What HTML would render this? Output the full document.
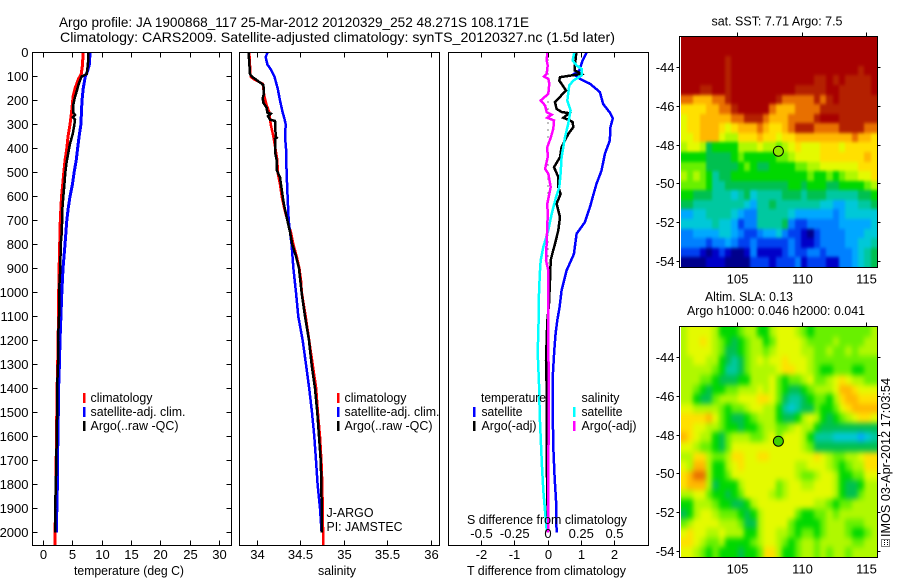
<!DOCTYPE html>
<html lang="en">
<head>
<meta charset="utf-8">
<title>Argo profile</title>
<style>
html,body{margin:0;padding:0;background:#fff;width:900px;height:580px;overflow:hidden}
svg{display:block;font-family:"Liberation Sans",sans-serif;fill:#000}
text{font-size:13px}
</style>
</head>
<body>
<svg id="chart" width="900" height="580" viewBox="0 0 900 580" xmlns="http://www.w3.org/2000/svg">
  <defs>
    <filter id="soft1" x="-5%" y="-5%" width="110%" height="110%" color-interpolation-filters="sRGB"><feGaussianBlur stdDeviation="1.3 1.7"/></filter>
    <filter id="soft2" x="-5%" y="-5%" width="110%" height="110%" color-interpolation-filters="sRGB"><feGaussianBlur stdDeviation="2.4 3"/></filter>
  </defs>
  <text x="59" y="27" textLength="470" lengthAdjust="spacingAndGlyphs" style="font-size:14px">Argo profile: JA 1900868_117 25-Mar-2012 20120329_252 48.271S 108.171E</text>
  <text x="60" y="42" textLength="555" lengthAdjust="spacingAndGlyphs" style="font-size:14px">Climatology: CARS2009. Satellite-adjusted climatology: synTS_20120327.nc (1.5d later)</text>

  <g id="maps"></g>
  <g id="lines"></g>
  <g id="axes"></g>

  <text x="74" y="575" textLength="110" lengthAdjust="spacingAndGlyphs">temperature (deg C)</text>
  <text x="318" y="575" textLength="38" lengthAdjust="spacingAndGlyphs">salinity</text>
  <text x="467" y="575" textLength="159" lengthAdjust="spacingAndGlyphs">T difference from climatology</text>
  <text x="467" y="524" textLength="160" lengthAdjust="spacingAndGlyphs">S difference from climatology</text>

  <g>
    <rect x="83" y="393" width="2.5" height="10" fill="#f00"/>
    <text x="90.5" y="402" textLength="62" lengthAdjust="spacingAndGlyphs">climatology</text>
    <rect x="83" y="407" width="2.5" height="10" fill="#00f"/>
    <text x="90.5" y="416" textLength="95" lengthAdjust="spacingAndGlyphs">satellite-adj. clim.</text>
    <rect x="83" y="421" width="2.5" height="10" fill="#000"/>
    <text x="90.5" y="430" textLength="88" lengthAdjust="spacingAndGlyphs">Argo(..raw -QC)</text>
  </g>
  <g>
    <rect x="337" y="393" width="2.5" height="10" fill="#f00"/>
    <text x="344.5" y="402" textLength="62" lengthAdjust="spacingAndGlyphs">climatology</text>
    <rect x="337" y="407" width="2.5" height="10" fill="#00f"/>
    <text x="344.5" y="416" textLength="95" lengthAdjust="spacingAndGlyphs">satellite-adj. clim.</text>
    <rect x="337" y="421" width="2.5" height="10" fill="#000"/>
    <text x="344.5" y="430" textLength="88" lengthAdjust="spacingAndGlyphs">Argo(..raw -QC)</text>
  </g>
  <text x="326.5" y="517" textLength="47" lengthAdjust="spacingAndGlyphs">J-ARGO</text>
  <text x="326.5" y="531" textLength="76" lengthAdjust="spacingAndGlyphs">PI: JAMSTEC</text>

  <g>
    <text x="481" y="402" textLength="65" lengthAdjust="spacingAndGlyphs">temperature</text>
    <rect x="473" y="407" width="2.5" height="10" fill="#00f"/>
    <text x="481.5" y="416" textLength="41" lengthAdjust="spacingAndGlyphs">satellite</text>
    <rect x="473" y="421" width="2.5" height="10" fill="#000"/>
    <text x="481.5" y="430" textLength="55" lengthAdjust="spacingAndGlyphs">Argo(-adj)</text>
    <text x="581.5" y="402" textLength="38" lengthAdjust="spacingAndGlyphs">salinity</text>
    <rect x="573" y="407" width="2.5" height="10" fill="#0ff"/>
    <text x="581.5" y="416" textLength="41" lengthAdjust="spacingAndGlyphs">satellite</text>
    <rect x="573" y="421" width="2.5" height="10" fill="#f0f"/>
    <text x="581.5" y="430" textLength="55" lengthAdjust="spacingAndGlyphs">Argo(-adj)</text>
  </g>

  <text x="711.5" y="25.5" textLength="131" lengthAdjust="spacingAndGlyphs">sat. SST: 7.71 Argo: 7.5</text>
  <text x="705" y="301" textLength="88" lengthAdjust="spacingAndGlyphs">Altim. SLA: 0.13</text>
  <text x="687" y="315" textLength="178" lengthAdjust="spacingAndGlyphs">Argo h1000: 0.046 h2000: 0.041</text>

  <g fill="none" stroke="#000" stroke-width="1" stroke-dasharray="1 1" shape-rendering="crispEdges">
    <rect x="881.5" y="539.5" width="8" height="7"/>
    <line x1="884.5" y1="540" x2="884.5" y2="546"/>
    <line x1="887.5" y1="540" x2="887.5" y2="546"/>
  </g>
  <text transform="translate(890 537) rotate(-90)" textLength="159" lengthAdjust="spacingAndGlyphs">IMOS 03-Apr-2012 17:03:54</text>
</svg>

<script>
// ---------- profile data ----------
const depthTicks = [0,100,200,300,400,500,600,700,800,900,1000,1100,1200,1300,1400,1500,1600,1700,1800,1900,2000];
const tempTicks = [0,5,10,15,20,25,30];
const salTicks = [34,34.5,35,35.5,36];
const salTickLabels = ["34","34.5","35","35.5","36"];
const tDiffTicks = [-2,-1,0,1,2];
const tDiffLabels = ["-2","-1","0","1","2"];
const sDiffTicks = [-0.5,-0.25,0,0.25,0.5];
const sDiffLabels = ["-0.5","-0.25","0","0.25","0.5"];
const lonTicks = [105,110,115];
const latTicks = [-44,-46,-48,-50,-52,-54];

const tempClimDepth = [0,50,90,110,150,180,250,300,350,400,450,500,550,600,650,700,800,900,1000,1100,1200,1300,1400,1500,1600,1700,1800,1900,2000,2053];
const tempClim = [6.76,6.7,6.45,6.0,5.4,5.1,4.8,4.55,4.2,4.0,3.7,3.5,3.3,3.1,3.0,2.9,2.8,2.7,2.62,2.6,2.5,2.45,2.35,2.3,2.25,2.2,2.15,2.1,2.0,2.0];
const tempSatDepth = [0,50,80,100,150,200,300,350,400,450,500,550,600,650,700,800,900,1000,1100,1200,1300,1400,1500,1600,1700,1800,1900,2000];
const tempSat = [7.95,7.85,7.5,7.15,6.8,6.6,6.4,6.1,5.85,5.6,5.25,4.95,4.55,4.25,4.0,3.7,3.35,3.15,3.0,2.85,2.75,2.6,2.55,2.5,2.4,2.4,2.3,2.25];
const tempArgoDepth = [0,50,90,100,130,160,190,220,250,260,270,280,300,340,380,420,460,500,550,600,650,700,750,800,900,1000,1100,1200,1300,1400,1500,1600,1700,1800,1900,2000];
const tempArgo = [7.7,7.6,7.4,6.5,6.05,5.7,5.35,5.1,5.1,5.4,5.05,5.4,5.3,5.0,4.55,4.25,3.95,3.75,3.6,3.4,3.25,3.2,3.15,2.97,2.9,2.67,2.67,2.5,2.5,2.35,2.35,2.3,2.2,2.15,2.0,2.0];

const salClimDepth = [0,100,110,130,180,220,250,300,350,400,450,500,550,600,650,700,750,800,850,900,950,1000,1100,1200,1300,1400,1500,1600,1700,1800,1900,2000,2053];
const salClim = [33.912,33.927,33.958,34.065,34.084,34.111,34.142,34.157,34.188,34.211,34.234,34.238,34.264,34.284,34.314,34.349,34.391,34.418,34.456,34.487,34.506,34.515,34.56,34.6,34.64,34.68,34.7,34.724,34.74,34.75,34.755,34.76,34.76];
const salSatDepth = [0,20,50,70,100,150,200,250,280,300,350,400,500,600,700,750,800,900,1000,1100,1200,1300,1400,1500,1600,1700,1800,1900,2000];
const salSat = [34.119,34.1,34.119,34.157,34.2,34.238,34.264,34.295,34.318,34.33,34.322,34.333,34.34,34.352,34.364,34.38,34.398,34.418,34.448,34.475,34.525,34.563,34.6,34.632,34.659,34.678,34.697,34.724,34.743];
const salArgoDepth = [0,90,100,120,135,170,190,210,230,250,255,265,280,285,350,355,360,420,450,490,520,570,620,650,700,750,800,850,900,1000,1100,1200,1300,1400,1500,1600,1700,1800,1900,2000];
const salArgo = [33.904,33.92,33.94,34.015,34.073,34.08,34.065,34.073,34.11,34.12,34.157,34.126,34.15,34.207,34.215,34.226,34.207,34.21,34.226,34.226,34.264,34.284,34.303,34.32,34.349,34.38,34.406,34.448,34.483,34.513,34.552,34.598,34.628,34.667,34.693,34.713,34.732,34.74,34.743,34.743];

const dTSatDepth = [0,33,75,90,110,130,165,215,250,275,310,367,422,492,547,595,645,707,755,840,908,991,1060,1116,1171,1241,1352,1491,1644,1769,1866,2000];
const dTSat = [1.16,1.04,0.94,0.78,0.96,1.26,1.56,1.66,1.86,1.95,1.88,1.86,1.71,1.61,1.46,1.36,1.26,1.11,0.86,0.78,0.56,0.41,0.35,0.28,0.23,0.19,0.14,0.14,0.16,0.2,0.24,0.26];
const dTArgoDepth = [0,54,75,89,103,117,158,207,235,248,253,272,280,290,311,339,394,436,478,519,561,589,630,686,741,797,832,866,950,1047,1120,1283,1400,1700,2000];
const dTArgo = [0.85,0.81,0.81,1.0,0.36,0.34,0.54,0.21,0.26,0.41,0.64,0.46,0.61,0.74,0.76,0.61,0.41,0.36,0.18,0.31,0.31,0.38,0.26,0.36,0.31,0.21,0.14,0.08,0.06,0.03,-0.02,-0.06,-0.04,-0.04,0.0];
const dSSatDepth = [0,33,54,68,96,117,137,200,241,297,353,436,505,561,603,672,741,811,866,922,1005,1060,1171,1241,1380,1519,1644,1727,1824,1894,1991];
const dSSat = [0.198,0.185,0.215,0.252,0.252,0.19,0.16,0.145,0.17,0.152,0.128,0.102,0.095,0.085,0.06,0.028,0.002,-0.035,-0.055,-0.062,-0.068,-0.07,-0.072,-0.078,-0.068,-0.062,-0.052,-0.045,-0.035,-0.025,-0.01];
const dSArgoDepth = [0,33,54,89,100,110,130,172,200,221,249,259,272,283,318,353,394,436,485,505,561,630,672,728,783,866,908,1060,1500,2000];
const dSArgo = [-0.005,-0.01,-0.002,-0.01,-0.03,0.002,0.01,0.002,-0.055,-0.022,-0.01,0.028,-0.005,0.045,0.04,0.022,-0.005,-0.002,-0.022,0.002,0.02,-0.005,-0.002,-0.005,-0.01,-0.015,0.002,0.002,0.005,0.0];

// ---------- map data: colour level of each grid cell, north to south ----------
const sstGrid = [
[16,16,16,16,16,16,16,16,16,16,16,16,16,16,16,16,16,16,16,16,16,16,16,16,16,16,16,16,16,16,16],
[16,16,16,16,16,16,16,16,16,16,16,16,16,16,16,16,16,16,16,16,16,16,16,16,16,16,16,16,16,16,16],
[16,16,16,16,16,16,16,15,16,16,16,16,16,16,16,16,16,16,16,16,16,16,16,16,16,16,16,16,16,16,16],
[16,16,16,16,16,16,16,15,16,16,16,16,16,16,16,16,16,16,16,16,16,16,16,16,16,16,16,16,15,16,16],
[16,16,16,16,16,16,16,15,16,16,16,16,16,16,16,16,16,16,16,16,16,15,15,16,15,16,15,15,15,15,16],
[16,16,16,15,15,16,16,15,16,16,16,16,16,16,16,16,16,16,15,15,15,15,15,16,16,15,15,15,15,15,16],
[14,14,13,13,13,14,14,15,16,16,16,16,16,16,16,15,14,14,14,14,14,15,14,15,16,15,15,15,15,15,15],
[12,12,12,12,13,13,14,14,15,16,16,16,16,16,14,13,13,13,14,14,14,14,15,15,15,15,15,15,15,15,15],
[11,12,12,13,13,13,13,13,14,14,15,15,15,14,13,13,13,14,14,14,14,15,16,16,16,15,15,15,15,15,15],
[11,12,12,13,13,13,12,11,12,13,13,13,14,13,12,12,13,14,15,15,15,14,14,14,14,15,15,15,15,14,14],
[11,11,12,13,13,13,11,10,10,12,12,12,13,12,12,11,12,12,13,13,13,13,13,13,13,13,13,14,13,13,12],
[10,11,11,10,7,8,8,8,8,10,10,10,11,10,10,9,10,11,12,11,11,11,12,12,12,11,12,12,12,12,12],
[8,8,8,8,7,7,7,7,8,9,8,8,8,8,8,9,9,10,11,11,11,11,12,12,12,12,12,12,12,13,12],
[9,9,9,9,7,7,7,7,7,8,9,8,7,7,8,8,8,8,9,9,10,10,11,11,11,11,11,11,12,12,12],
[10,9,10,9,8,6,7,7,8,8,8,8,8,8,8,8,8,8,8,8,9,8,8,9,8,9,10,10,11,11,12],
[9,9,9,9,8,6,6,7,7,7,7,7,7,7,7,7,7,8,8,7,8,8,8,7,7,8,8,8,8,9,10],
[8,8,7,7,7,6,6,6,5,6,7,5,6,6,6,6,7,7,7,6,7,7,7,6,6,6,6,6,7,7,8],
[7,7,6,6,6,6,6,6,6,6,5,4,6,6,7,6,6,6,6,6,6,6,5,5,4,4,5,5,6,6,7],
[4,4,5,5,6,6,6,6,5,4,3,3,6,6,6,6,6,5,4,4,4,4,4,4,3,4,5,5,5,5,5],
[5,5,5,5,5,6,5,5,4,2,3,3,6,6,6,6,7,3,2,2,3,3,3,3,3,4,4,4,4,4,5],
[3,3,4,4,4,4,5,5,4,3,2,2,3,4,4,5,3,2,2,1,0,2,3,3,3,3,4,4,4,5,5],
[3,3,3,3,2,3,3,4,3,2,2,3,2,2,2,2,2,3,2,1,1,2,3,3,3,3,4,4,5,5,6],
[2,2,2,1,0,1,2,1,0,0,1,3,1,1,1,1,2,3,2,2,3,3,2,3,3,3,3,4,5,6,7],
[0,0,0,0,1,1,1,0,0,0,0,2,2,2,1,2,2,2,3,1,2,2,2,1,1,3,3,4,5,6,7]
];
const slaGrid = [
[10,11,11,11,11,10,8,8,8,9,10,10,8,8,10,11,11,11,10,9,8,9,9,9,9,9,9,9,9,9,10],
[10,11,11,12,11,10,9,8,7,8,9,10,10,8,9,11,11,11,11,10,9,9,9,9,10,9,9,9,9,10,10],
[10,11,11,11,11,10,9,7,7,8,9,10,10,9,10,11,11,11,11,10,10,9,9,10,9,9,10,9,10,10,10],
[10,10,11,11,10,10,8,7,6,7,9,10,11,10,11,11,12,11,11,11,10,9,9,9,9,9,9,9,9,9,9],
[10,10,10,10,10,9,8,6,6,7,9,10,10,10,10,11,12,12,11,11,10,9,8,8,9,9,9,8,8,9,9],
[10,10,10,9,9,8,7,7,7,8,8,10,10,10,11,9,8,9,9,10,11,9,9,10,11,12,11,10,10,9,9],
[10,10,9,8,7,8,8,9,9,10,10,10,11,10,11,9,8,7,7,8,9,10,10,10,11,13,13,12,11,11,11],
[10,10,8,7,7,9,10,10,10,11,11,11,12,12,11,9,7,6,6,7,8,9,9,8,10,12,13,13,12,12,12],
[11,11,10,10,10,10,9,8,9,9,10,11,11,10,10,8,6,5,6,7,7,9,8,8,9,11,12,13,13,13,13],
[12,12,12,12,13,11,9,8,7,7,8,9,10,10,10,8,7,7,8,10,11,10,8,7,8,9,10,11,12,12,11],
[12,12,11,11,10,10,9,8,8,7,8,8,9,10,10,9,9,10,11,10,10,8,7,7,7,7,7,7,7,7,7],
[13,12,11,10,10,8,7,9,10,10,10,9,9,10,11,9,11,11,11,10,8,6,6,6,5,5,5,5,4,5,6],
[11,11,10,9,9,8,7,9,11,11,11,11,11,11,11,11,11,11,11,10,9,7,7,7,7,7,7,7,7,7,7],
[10,10,12,12,10,9,9,10,12,12,11,11,12,12,11,11,11,11,11,11,11,12,11,10,9,9,10,10,11,12,12],
[11,10,13,13,10,8,8,10,11,12,11,11,11,11,11,11,11,11,10,10,11,11,11,10,9,8,9,10,10,12,12],
[12,13,14,14,10,8,8,9,11,11,11,11,11,11,11,11,11,11,10,9,9,10,11,11,10,8,8,9,9,11,11],
[12,13,13,13,10,7,8,8,8,10,11,11,11,11,11,9,10,11,11,10,10,11,11,11,10,8,7,7,8,10,10],
[10,10,11,11,9,8,8,7,8,9,11,11,11,11,10,9,10,11,11,11,11,11,11,11,10,8,7,7,9,10,10],
[8,8,10,10,10,9,8,8,7,7,8,10,11,11,11,11,11,11,11,11,11,10,10,9,8,9,9,10,10,10,10],
[7,8,10,11,11,10,9,9,9,8,7,8,10,11,11,11,11,11,9,8,8,9,9,10,9,10,10,10,10,10,10],
[9,10,11,11,11,11,10,10,10,9,7,7,10,11,11,11,11,9,8,8,8,8,9,10,10,10,9,9,9,10,10],
[11,12,11,11,10,10,11,10,10,10,8,8,10,11,11,10,10,9,8,9,9,8,9,10,10,10,9,8,8,9,10],
[12,12,11,10,9,9,10,8,8,8,8,9,10,11,11,10,9,8,9,10,10,9,10,10,10,10,10,9,9,10,10],
[11,11,10,9,8,9,8,8,8,7,8,8,9,12,12,10,8,8,9,10,10,9,10,9,10,10,9,10,10,10,10]
];
const floatLon = 108.171;
const floatLat = -48.271;

// ---------- drawing ----------
const NS = "http://www.w3.org/2000/svg";
const palette = ["#00008c","#0000c8","#0040f0","#0080ff","#00a8ff","#00c8d8","#00c8a0","#00c050","#00d800","#68f000","#b0f800","#e4fa00","#ffe000","#ffb800","#e87000","#b42000","#a80000"];
const linesLayer = document.getElementById("lines");
const axesLayer = document.getElementById("axes");
const mapsLayer = document.getElementById("maps");

function depthY(z){ return 52.5 + z * 0.24; }
function tempX(t){ return 43.3 + t * 5.87; }
function salX(s){ return 257 + (s - 34) * 87; }
function dTX(d){ return 548 + d * 33.25; }
function dSX(d){ return 548 + d * 133; }
function lonX(l){ return 737.3 + (l - 105) * 12.95; }
function latY1(l){ return 145.3 + (-48 - l) * 19.34; }
function latY2(l){ return 435.3 + (-48 - l) * 19.34; }

function make(tag, parent){
  const el = document.createElementNS(NS, tag);
  parent.appendChild(el);
  return el;
}
function drawProfile(name, depths, values, xf, color, width){
  const el = make("polyline", linesLayer);
  
  
  el.setAttribute("points", depths.map((z,i)=>xf(values[i]).toFixed(1)+","+depthY(z).toFixed(1)).join(" "));
  el.setAttribute("fill", "none");
  el.setAttribute("stroke", color);
  el.setAttribute("stroke-width", width);
  el.setAttribute("shape-rendering", "crispEdges");
}
function tick(x1,y1,x2,y2){
  const el = make("line", axesLayer);
  
  
  el.setAttribute("x1", x1); el.setAttribute("y1", y1);
  el.setAttribute("x2", x2); el.setAttribute("y2", y2);
  el.setAttribute("stroke", "#000");
  el.setAttribute("shape-rendering", "crispEdges");
}
function label(str,x,y,anchor){
  const el = make("text", axesLayer);
  
  
  el.setAttribute("x", x); el.setAttribute("y", y);
  el.setAttribute("text-anchor", anchor);
  el.textContent = str;
}
function frame(name,x,y,w,h){
  const el = make("rect", axesLayer);
  
  
  el.setAttribute("x", x); el.setAttribute("y", y);
  el.setAttribute("width", w); el.setAttribute("height", h);
  el.setAttribute("fill", "none");
  el.setAttribute("stroke", "#000");
  el.setAttribute("shape-rendering", "crispEdges");
}
function snap(v){ return Math.floor(v) + 0.5; }

// panel frames
frame("temperature-panel-frame", 32.5, 52.5, 199, 493);
frame("salinity-panel-frame", 239.5, 52.5, 200, 493);
frame("difference-panel-frame", 448.5, 52.5, 200, 493);

// depth axis
depthTicks.forEach(z=>{
  const y = snap(depthY(z));
  tick(32.5,y,37.5,y);
  tick(226.5,y,231.5,y);
  label(String(z),28.5,y+4.5,"end");
});
// temperature axis
tempTicks.forEach(t=>{
  const x = snap(tempX(t));
  tick(x,52.5,x,57.5);
  tick(x,540.5,x,545.5);
  label(String(t),x,559,"middle");
});
// salinity axis
salTicks.forEach((s,i)=>{
  const x = snap(salX(s));
  tick(x,52.5,x,57.5);
  tick(x,540.5,x,545.5);
  label(salTickLabels[i],x,559,"middle");
});
// T / S difference axes
tDiffTicks.forEach((d,i)=>{
  const x = snap(dTX(d));
  tick(x,52.5,x,57.5);
  tick(x,540.5,x,545.5);
  label(tDiffLabels[i],x,559,"middle");
});
sDiffTicks.forEach((d,i)=>{
  label(sDiffLabels[i],dSX(d),538,"middle");
});

// zero line of the difference panel
const zeroLine = make("line", linesLayer);


zeroLine.setAttribute("x1", dTX(0)); zeroLine.setAttribute("x2", dTX(0));
zeroLine.setAttribute("y1", depthY(0)); zeroLine.setAttribute("y2", depthY(2000));
zeroLine.setAttribute("stroke", "#000");
zeroLine.setAttribute("stroke-dasharray", "1 6");
zeroLine.setAttribute("shape-rendering", "crispEdges");

// profiles
drawProfile("temperature-climatology-line", tempClimDepth, tempClim, tempX, "#f00", 3);
drawProfile("temperature-satellite-line", tempSatDepth, tempSat, tempX, "#00f", 3);
drawProfile("temperature-argo-line", tempArgoDepth, tempArgo, tempX, "#000", 2.5);
drawProfile("salinity-climatology-line", salClimDepth, salClim, salX, "#f00", 2.5);
drawProfile("salinity-satellite-line", salSatDepth, salSat, salX, "#00f", 2.5);
drawProfile("salinity-argo-line", salArgoDepth, salArgo, salX, "#000", 2.5);
drawProfile("t-diff-satellite-line", dTSatDepth, dTSat, dTX, "#00f", 2.5);
drawProfile("t-diff-argo-line", dTArgoDepth, dTArgo, dTX, "#000", 2.5);
drawProfile("s-diff-satellite-line", dSSatDepth, dSSat, dSX, "#0ff", 2.5);
drawProfile("s-diff-argo-line", dSArgoDepth, dSArgo, dSX, "#f0f", 2.5);

// maps
function drawMap(name, grid, latY, frameTop, frameH, filterId){
  const lonW = 100.62, lonE = 115.8, latN = (frameTop + 1 - latY(-48)) / -19.34 - 48, latS = (frameTop + frameH - latY(-48)) / -19.34 - 48;
  const rows = grid.length, cols = grid[0].length;
  const clip = make("clipPath", mapsLayer);
  clip.setAttribute("id", name + "-clip");
  const clipRect = make("rect", clip);
  clipRect.setAttribute("x", 681); clipRect.setAttribute("y", frameTop + 1);
  clipRect.setAttribute("width", 197); clipRect.setAttribute("height", frameH);
  const outer = make("g", mapsLayer);
  
  
  outer.setAttribute("clip-path", "url(#" + name + "-clip)");
  const group = make("g", outer);
  
  
  group.setAttribute("shape-rendering", "crispEdges");
  group.setAttribute("filter", "url(#" + filterId + ")");
  grid.forEach((row,r)=>{
    row.forEach((v,c)=>{
      let x0 = Math.round(lonX(lonW + (lonE - lonW) * c / cols));
      let x1 = Math.round(lonX(lonW + (lonE - lonW) * (c + 1) / cols));
      let y0 = Math.round(latY(latN + (latS - latN) * r / rows));
      let y1 = Math.round(latY(latN + (latS - latN) * (r + 1) / rows));
      if (c === 0) x0 -= 12;
      if (c === cols - 1) x1 += 12;
      if (r === 0) y0 -= 12;
      if (r === rows - 1) y1 += 12;
      const cell = make("rect", group);
      
      
      cell.setAttribute("x", x0); cell.setAttribute("y", y0);
      cell.setAttribute("width", x1 - x0); cell.setAttribute("height", y1 - y0);
      cell.setAttribute("fill", palette[v]);
    });
  });
  frame(name + "-frame", 679.5, frameTop + 0.5, 198, frameH);
  lonTicks.forEach(l=>{
    const x = snap(lonX(l));
    tick(x, frameTop + 0.5, x, frameTop - 3.5);
    label(String(l), x, frameTop + frameH + 16.5, "middle");
  });
  latTicks.forEach(l=>{
    const y = snap(latY(l));
    tick(679.5, y, 676.5, y);
    tick(877.5, y, 880.5, y);
    label(String(l), 674.5, y + 4.5, "end");
  });
}
drawMap("sst-map", sstGrid, latY1, 36, 231, "soft1");
drawMap("sla-map", slaGrid, latY2, 326, 231, "soft2");

function drawMarker(name, y, fill){
  const m = make("circle", axesLayer);
  
  
  m.setAttribute("cx", lonX(floatLon));
  m.setAttribute("cy", y);
  m.setAttribute("r", 5);
  m.setAttribute("fill", fill);
  m.setAttribute("stroke", "#000");
}
drawMarker("sst-float-marker", latY1(floatLat) + 0.7, "#90e800");
drawMarker("sla-float-marker", latY2(floatLat) + 0.7, "#40d000");
</script>
</body>
</html>
